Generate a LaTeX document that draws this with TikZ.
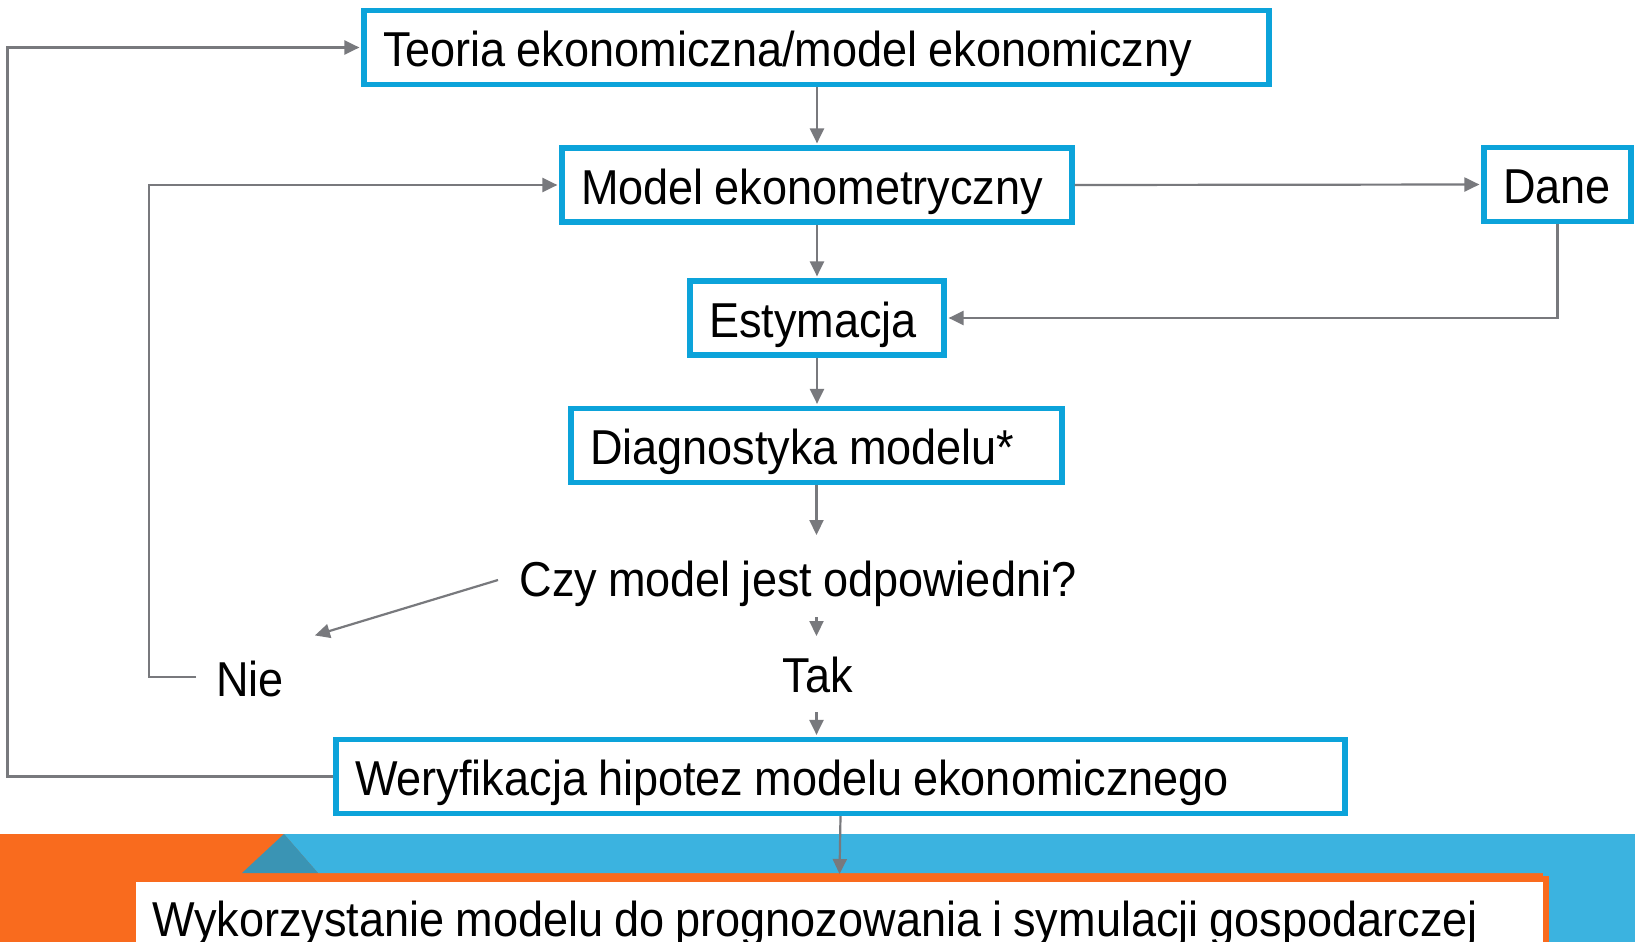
\documentclass[tikz,border=0pt]{standalone}
\usepackage{fontspec}
\setmainfont[FakeStretch=0.92,WordSpace=0.88]{Liberation Sans}
\usetikzlibrary{arrows.meta,calc}
\definecolor{boxblue}{RGB}{12,163,218}
\definecolor{linegray}{RGB}{120,121,125}
\definecolor{bandorange}{RGB}{249,107,30}
\definecolor{bandblue}{RGB}{59,179,224}
\definecolor{bandteal}{RGB}{58,148,180}
\newcommand{\lbox}[2]{\makebox[#1][l]{#2}}
\begin{document}
\begin{tikzpicture}[x=0.5pt,y=-0.5pt,
  every node/.style={font=\fontsize{24.5}{29}\selectfont},
  stepbox/.style={draw=boxblue, line width=2.6pt, fill=white, inner xsep=9.5pt, inner ysep=0pt,
    anchor=center, minimum height=37pt, text height=20pt, text depth=1pt},
  freetext/.style={inner sep=0pt, anchor=base},
  arrowline/.style={draw=linegray, line width=1.1pt, -{Triangle[length=7.5pt,width=7pt]}, shorten >=1pt},
  plainline/.style={draw=linegray, line width=1.1pt}]
\useasboundingbox (0,0) rectangle (1635,942);
\fill[white] (0,0) rectangle (1635,942);
% bottom band
\fill[bandorange] (0,834) rectangle (1635,942);
\fill[bandblue] (284,834) -- (1635,834) -- (1635,942) -- (1543,942) -- (1543,873) -- (318,873) -- cycle;
\fill[bandteal] (242,873) -- (284,834) -- (318,873) -- cycle;
% boxes
\node[stepbox] (teoria) at (816.5,47.5) {\lbox{433.5pt}{Teoria ekonomiczna/model ekonomiczny}};
\node[stepbox] (model) at (817,185) {\lbox{236pt}{Model ekonometryczny}};
\node[stepbox] (dane) at (1557.5,184.5) {\lbox{54.5pt}{Dane}};
\node[stepbox] (estym) at (817,318) {\lbox{108pt}{Estymacja}};
\node[stepbox] (diag) at (816.5,445.5) {\lbox{226.5pt}{Diagnostyka modelu*}};
\node[stepbox] (weryf) at (840.5,776.5) {\lbox{485.5pt}{Weryfikacja hipotez modelu ekonomicznego}};
\node[draw=bandorange, fill=white, line width=3pt, inner xsep=9.5pt, inner ysep=0pt,
  anchor=north west, minimum height=38pt, text height=20pt, text depth=1pt]
  (use) at (130,876) {\lbox{687.5pt}{Wykorzystanie modelu do prognozowania i symulacji gospodarczej}};
% free texts
\node[freetext] (q) at (798,596) {Czy model jest odpowiedni?};
\node[freetext] (tak) at (818,692) {Tak};
\node[freetext] (nie) at (250,696) {Nie};
% helper coordinates
\coordinate (qtop) at (816.5,537);
\coordinate (qleft) at (498,580);
\coordinate (nietip) at (313,636);
\coordinate (tq1) at (816.5,617);
\coordinate (tq2) at (816.5,638);
\coordinate (tk1) at (816.5,712);
\coordinate (nieL) at (196,677);
% connectors
\draw[arrowline] (teoria.south -| model.north) -- (model.north);
\draw[arrowline] (model.south) -- (estym.north);
\draw[arrowline] (estym.south) -- (diag.north -| estym.south);
\draw[arrowline] (diag.south) -- (qtop);
\draw[arrowline] (qleft) -- (nietip);
\draw[arrowline] (tq1) -- (tq2);
\draw[arrowline] (tk1) -- (tk1 |- weryf.north);
\draw[arrowline] (weryf.south) -- (use.north);
\draw[arrowline] (model.east) -- (dane.west);
\draw[arrowline] (dane.south) |- (estym.east);
\draw[arrowline] (nieL) -- ++(-47,0) |- (model.west);
\draw[arrowline] (weryf.west) -- ++(-326,0) |- (teoria.west);
\end{tikzpicture}
\end{document}
